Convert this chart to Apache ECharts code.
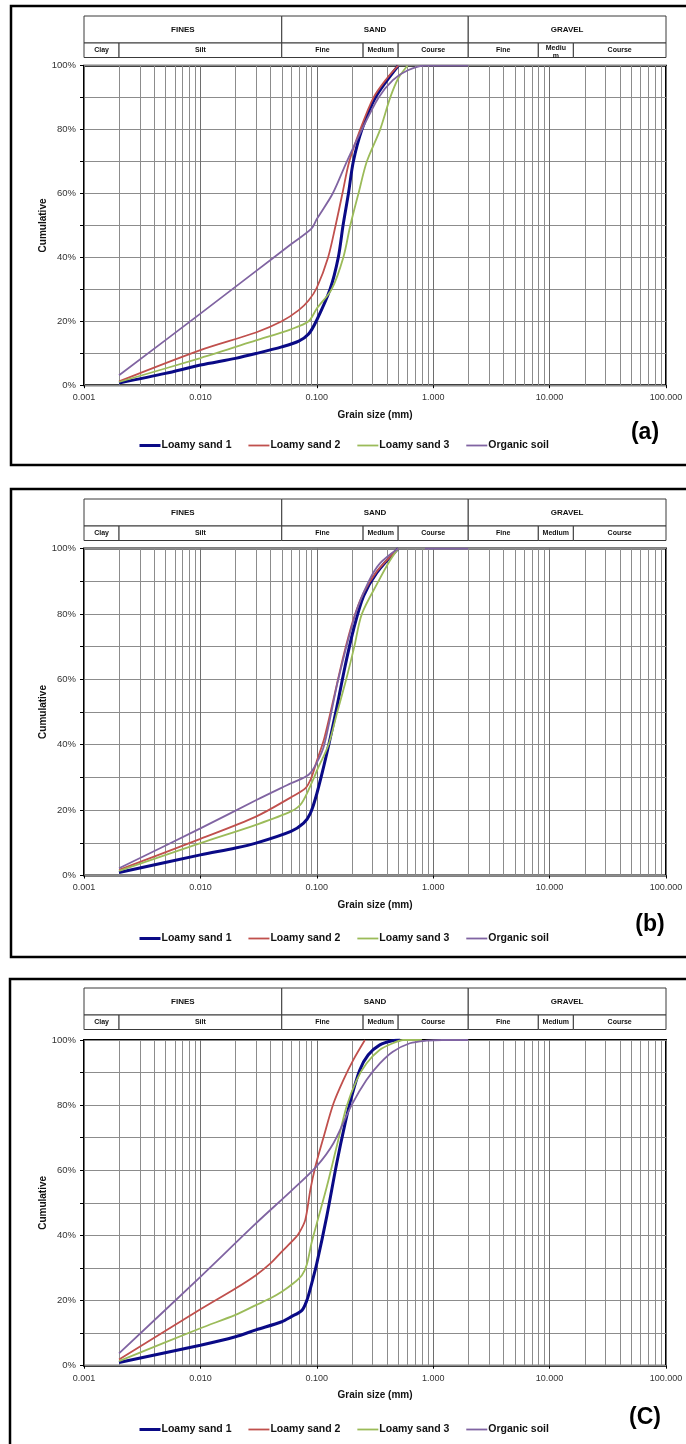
<!DOCTYPE html>
<html>
<head>
<meta charset="utf-8">
<script src="https://cdn.jsdelivr.net/npm/echarts@6/dist/echarts.min.js"></script>
<style>
  html, body { margin: 0; padding: 0; background: #fff; }
  #chart { width: 686px; height: 1444px; }
</style>
</head>
<body>
<div id="chart"></div>
<script>
// ---- Sample names and panel tags ----
const seriesNames = ['Loamy sand 1', 'Loamy sand 2', 'Loamy sand 3', 'Organic soil'];
const panelTags = ['(a)', '(b)', '(C)'];

// ---- Axis ticks ----
const xMajorTicks = [0.001, 0.01, 0.1, 1, 10, 100];
const xTickLabels = ['0.001', '0.010', '0.100', '1.000', '10.000', '100.000'];
const xMinorGrid = [
  0.002, 0.003, 0.004, 0.005, 0.006, 0.007, 0.008, 0.009,
  0.02, 0.03, 0.04, 0.05, 0.06, 0.07, 0.08, 0.09,
  0.2, 0.3, 0.4, 0.5, 0.6, 0.7, 0.8, 0.9,
  2, 3, 4, 5, 6, 7, 8, 9,
  20, 30, 40, 50, 60, 70, 80, 90
];
const yTickValues = [0, 20, 40, 60, 80, 100];

// ---- Soil classification header (grain size limits in mm) ----
const classMain = ['FINES', 'SAND', 'GRAVEL'];
const classMainLimits = [0.001, 0.05, 2, 100];
const classSubA = ['Clay', 'Silt', 'Fine', 'Medium', 'Course', 'Fine', 'Mediu\nm', 'Course'];
const classSub = ['Clay', 'Silt', 'Fine', 'Medium', 'Course', 'Fine', 'Medium', 'Course'];
const classSubLimits = [0.001, 0.002, 0.05, 0.25, 0.5, 2, 8, 16, 100];

// ---- Grading curves: [grain size (mm), cumulative passing (%)] ----
// Panel (a)
const a_loamy1 = [[0.002,0.7],[0.005,3.7],[0.01,6.3],[0.02,8.4],[0.03,9.9],[0.05,12],[0.07,13.8],[0.085,16],[0.1,20.4],[0.13,30],[0.153,40],[0.168,50],[0.187,60],[0.206,70],[0.244,80],[0.318,90],[0.5,100]];
const a_loamy2 = [[0.002,1.2],[0.01,11],[0.03,16.5],[0.05,20],[0.07,23.5],[0.085,26.5],[0.1,30.5],[0.125,40],[0.145,50],[0.166,60],[0.19,70],[0.236,80],[0.307,90],[0.4,96],[0.5,100]];
const a_loamy3 = [[0.002,1],[0.01,8.5],[0.03,14],[0.06,17.5],[0.085,20],[0.1,24],[0.134,30],[0.169,40],[0.194,50],[0.228,60],[0.269,70],[0.35,80],[0.427,90],[0.5,96],[0.6,100]];
const a_organic = [[0.002,3.1],[0.01,22.4],[0.03,35.7],[0.06,44.1],[0.09,49],[0.1,52],[0.137,60],[0.181,70],[0.244,80],[0.339,90],[0.45,95.5],[0.6,98.5],[0.85,100],[2,100]];

// Panel (b)
const b_loamy1 = [[0.002,0.9],[0.01,6.3],[0.02,8.4],[0.03,9.9],[0.06,13.5],[0.077,16],[0.088,19],[0.1,25],[0.122,37.4],[0.149,51.7],[0.175,64],[0.206,75],[0.252,85.4],[0.328,92.6],[0.5,100]];
const b_loamy2 = [[0.002,1.7],[0.01,11.2],[0.03,18],[0.06,23.9],[0.08,26.7],[0.09,30],[0.1,35],[0.116,42],[0.139,53.8],[0.169,67],[0.206,78.3],[0.252,86.4],[0.328,93],[0.5,100]];
const b_loamy3 = [[0.002,1.4],[0.01,9.9],[0.03,15.5],[0.06,19.6],[0.074,22.1],[0.093,29.3],[0.1,32],[0.126,40],[0.15,50],[0.179,60],[0.21,70],[0.244,80],[0.339,90],[0.42,96],[0.5,100]];
const b_organic = [[0.002,2.2],[0.01,14.4],[0.03,23],[0.06,28.2],[0.085,30.8],[0.1,34.5],[0.116,40],[0.153,60],[0.215,80],[0.28,90],[0.35,95.5],[0.5,100],[0.7,null],[0.85,100],[2,100]];

// Panel (c)
const c_loamy1 = [[0.002,1],[0.01,6.3],[0.02,8.9],[0.03,11],[0.05,13.5],[0.06,15],[0.0745,17],[0.082,20],[0.09,25],[0.1,31.4],[0.122,46],[0.148,62],[0.175,74.4],[0.199,82.6],[0.234,90.8],[0.276,95.4],[0.348,98.5],[0.45,99.8],[0.52,100]];
const c_loamy2 = [[0.002,1.9],[0.01,17.3],[0.02,23.7],[0.03,27.8],[0.04,31.4],[0.05,35],[0.063,38.6],[0.07,40.6],[0.0795,44.7],[0.088,54],[0.097,61],[0.114,70],[0.139,80.5],[0.169,87.7],[0.206,93.9],[0.259,100]];
const c_loamy3 = [[0.002,1.4],[0.01,11.5],[0.02,15.6],[0.03,18.6],[0.04,20.7],[0.05,22.7],[0.063,25.3],[0.0745,27.8],[0.082,31],[0.09,37.6],[0.1,43.7],[0.122,55],[0.148,67.2],[0.18,79.5],[0.22,87.7],[0.267,92.8],[0.348,97],[0.45,99],[0.55,100],[0.8,100]];
const c_organic = [[0.002,3.8],[0.01,27.3],[0.03,43.7],[0.06,53.6],[0.1,61.3],[0.139,68.3],[0.199,80],[0.267,87.7],[0.348,92.8],[0.45,96.4],[0.63,99],[0.87,99.8],[1.2,100],[2,100]];

const panelData = [
  [a_loamy1, a_loamy2, a_loamy3, a_organic],
  [b_loamy1, b_loamy2, b_loamy3, b_organic],
  [c_loamy1, c_loamy2, c_loamy3, c_organic]
];
const panelSubLabels = [classSubA, classSub, classSub];

// ---- Styling ----
const FONT = '"Liberation Sans", Arial, sans-serif';
const lineColors = ['#0a0a86', '#c0504d', '#9bbb59', '#8064a2'];
const lineWidths = [3, 1.8, 1.8, 1.8];
const gridGray = '#8c8c8c';

// Panel layout (pixels)
const layout = [
  { frame: [11, 6, 700, 459],  headTop: 16,  headH: 41.5, plotTop: 65.7,  plotH: 319.5, legendTop: 440,  tag: [645, 433] },
  { frame: [11, 489, 700, 468], headTop: 499, headH: 41.5, plotTop: 548.5, plotH: 327,   legendTop: 933,  tag: [650, 925] },
  { frame: [10, 979, 700, 480], headTop: 988, headH: 41.5, plotTop: 1040,  plotH: 325.7, legendTop: 1424, tag: [645, 1418] }
];
const plotLeft = 84, plotRight = 20;

const grids = [], xAxes = [], yAxes = [], series = [], legends = [], graphics = [];

function headerRenderer(labels, row) {
  return function (params, api) {
    const cs = params.coordSys;
    const x0 = api.coord([api.value(0), 0])[0];
    const x1 = api.coord([api.value(1), 0])[0];
    const split = cs.y + Math.round(cs.height * 0.66);
    const y0 = row === 0 ? cs.y : split;
    const y1 = row === 0 ? split : cs.y + cs.height;
    const label = labels[params.dataIndex];
    const twoLine = label.indexOf('\n') >= 0;
    return {
      type: 'group',
      children: [
        { type: 'rect', shape: { x: x0, y: y0, width: x1 - x0, height: y1 - y0 },
          style: { fill: '#fff', stroke: '#3a3a3a', lineWidth: 1 } },
        { type: 'text',
          style: { text: label, x: (x0 + x1) / 2, y: twoLine ? y0 + 1 : (y0 + y1) / 2,
                   align: 'center', verticalAlign: twoLine ? 'top' : 'middle',
                   font: 'bold ' + (row === 0 ? 8 : 7) + 'px ' + FONT, fill: '#111',
                   lineHeight: 8 } }
      ]
    };
  };
}

layout.forEach((L, p) => {
  const gPlot = grids.length;
  grids.push({ left: plotLeft, right: plotRight, top: L.plotTop, height: L.plotH,
               show: true, borderColor: '#000', borderWidth: 2, backgroundColor: '#fff' });
  grids.push({ left: plotLeft, right: plotRight, top: L.headTop, height: L.headH });

  xAxes.push({
    type: 'log', logBase: 10, min: 0.001, max: 100, gridIndex: gPlot,
    name: 'Grain size (mm)', nameLocation: 'middle', nameGap: 25, nameMoveOverlap: false,
    nameTextStyle: { fontFamily: FONT, fontWeight: 'bold', fontSize: 10, color: '#111' },
    axisLine: { show: false },
    axisTick: { show: true, length: 3, lineStyle: { color: '#000' } },
    axisLabel: { fontFamily: FONT, fontSize: 9, color: '#333', margin: 8,
      formatter: v => { const i = xMajorTicks.findIndex(t => Math.abs(Math.log10(t) - Math.log10(v)) < 1e-6); return i >= 0 ? xTickLabels[i] : ''; } },
    splitLine: { show: true, lineStyle: { color: '#6e6e6e', width: 1 } }
  });
  xAxes.push({ type: 'log', logBase: 10, min: 0.001, max: 100, gridIndex: gPlot + 1, show: false });

  yAxes.push({
    type: 'value', min: 0, max: 100, interval: 10, gridIndex: gPlot,
    name: 'Cumulative', nameLocation: 'middle', nameGap: 36, nameRotate: 90, nameMoveOverlap: false,
    nameTextStyle: { fontFamily: FONT, fontWeight: 'bold', fontSize: 10, color: '#111' },
    axisLine: { show: false },
    axisTick: { show: true, length: 4, lineStyle: { color: '#000' } },
    axisLabel: { fontFamily: FONT, fontSize: 9.5, color: '#333', margin: 8,
      formatter: v => yTickValues.indexOf(v) >= 0 ? v + '%' : '' },
    splitLine: { show: true, lineStyle: { color: gridGray, width: 1 } }
  });
  yAxes.push({ type: 'value', min: 0, max: 1, gridIndex: gPlot + 1, show: false });

  const xi = gPlot, yi = gPlot;

  // minor vertical grid lines at 2..9 of every decade
  series.push({
    type: 'custom', xAxisIndex: xi, yAxisIndex: yi, silent: true, z: 1,
    data: xMinorGrid.map(v => [v, 0]),
    renderItem: (params, api) => {
      const cs = params.coordSys;
      const x = Math.round(api.coord([api.value(0), 0])[0]) + 0.5;
      return { type: 'line', shape: { x1: x, y1: cs.y, x2: x, y2: cs.y + cs.height },
               style: { stroke: gridGray, lineWidth: 1 } };
    }
  });

  // grading curves
  panelData[p].forEach((d, k) => {
    series.push({
      name: seriesNames[k], type: 'line', xAxisIndex: xi, yAxisIndex: yi,
      data: d, smooth: 0.3, symbol: 'none', showSymbol: false, connectNulls: false,
      z: 3 + (k === 0 ? 0 : 1),
      lineStyle: { color: lineColors[k], width: lineWidths[k] },
      itemStyle: { color: lineColors[k] }
    });
  });

  // classification header rows
  const mainCells = classMain.map((_, i) => [classMainLimits[i], classMainLimits[i + 1]]);
  const subLabels = panelSubLabels[p];
  const subCells = subLabels.map((_, i) => [classSubLimits[i], classSubLimits[i + 1]]);
  series.push({ type: 'custom', xAxisIndex: xi + 1, yAxisIndex: yi + 1, silent: true,
    data: mainCells, encode: { x: [0, 1] }, renderItem: headerRenderer(classMain, 0) });
  series.push({ type: 'custom', xAxisIndex: xi + 1, yAxisIndex: yi + 1, silent: true,
    data: subCells, encode: { x: [0, 1] }, renderItem: headerRenderer(subLabels, 1) });

  legends.push({
    data: seriesNames.map((n, k) => ({ name: n, lineStyle: { width: k === 0 ? 3 : 1.8 } })),
    left: 138, top: L.legendTop, orient: 'horizontal',
    itemWidth: 21, itemHeight: 10, itemGap: 16, padding: 0, selectedMode: false,
    itemStyle: { opacity: 0 },
    textStyle: { fontFamily: FONT, fontWeight: 'bold', fontSize: 10.5, color: '#111', padding: [0, 0, 0, -4] }
  });

  graphics.push({ type: 'rect', silent: true, z: -1,
    shape: { x: L.frame[0], y: L.frame[1], width: L.frame[2], height: L.frame[3] },
    style: { fill: 'none', stroke: '#000', lineWidth: 2.5 } });
  graphics.push({ type: 'text', silent: true,
    style: { text: panelTags[p], x: L.tag[0], y: L.tag[1], align: 'center', verticalAlign: 'middle',
             font: 'bold 23px ' + FONT, fill: '#000' } });
});

const chart = echarts.init(document.getElementById('chart'), null, { renderer: 'canvas' });
chart.setOption({
  animation: false,
  backgroundColor: '#fff',
  grid: grids,
  xAxis: xAxes,
  yAxis: yAxes,
  legend: legends,
  series: series,
  graphic: graphics
});
</script>
</body>
</html>
